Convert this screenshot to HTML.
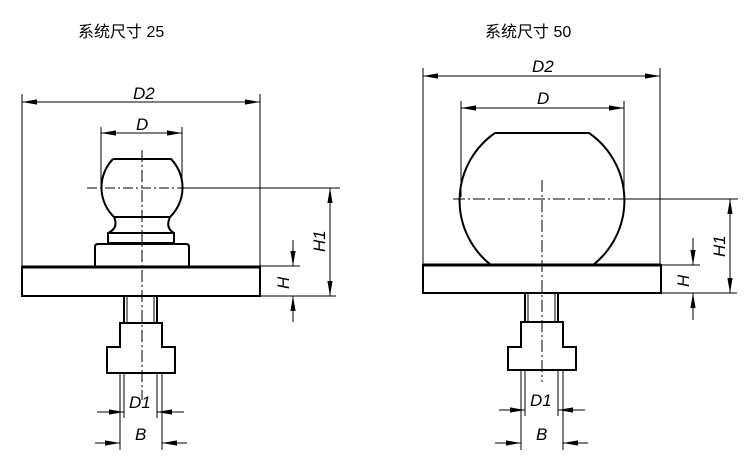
<!DOCTYPE html>
<html><head><meta charset="utf-8"><style>
html,body{margin:0;padding:0;background:#fff;}
svg{display:block;}
text{font-family:"Liberation Sans","Noto Sans CJK SC",sans-serif;fill:#000;}
.dim{font-style:italic;font-size:17px;}
</style></head><body>
<svg width="750" height="467" viewBox="0 0 750 467" xmlns="http://www.w3.org/2000/svg">
<defs>
<marker id="a" viewBox="0 0 15 6" refX="15" refY="3" markerWidth="15" markerHeight="6" markerUnits="userSpaceOnUse" orient="auto"><path d="M0,0.4 L15,3 L0,5.6 Z" fill="#000"/></marker>
</defs>
<text x="78" y="37" font-size="16">系统尺寸 25</text>
<text x="485" y="37" font-size="16">系统尺寸 50</text>

<!-- LEFT -->
<g stroke="#000" fill="none">
<g stroke-width="1">
<line x1="22" y1="94" x2="22" y2="266"/>
<line x1="260" y1="94" x2="260" y2="266"/>
<line x1="141" y1="102" x2="260" y2="102" marker-end="url(#a)"/>
<line x1="141" y1="102" x2="22" y2="102" marker-end="url(#a)"/>
<line x1="101" y1="127" x2="101" y2="186"/>
<line x1="182" y1="127" x2="182" y2="186"/>
<line x1="141" y1="133" x2="101" y2="133" marker-end="url(#a)"/>
<line x1="141" y1="133" x2="182" y2="133" marker-end="url(#a)"/>
<line x1="182" y1="188" x2="340" y2="188"/>
<line x1="260" y1="266" x2="300" y2="266"/>
<line x1="260" y1="296" x2="336" y2="296"/>
<line x1="330" y1="242" x2="330" y2="188" marker-end="url(#a)"/>
<line x1="330" y1="242" x2="330" y2="296" marker-end="url(#a)"/>
<line x1="293" y1="240" x2="293" y2="266" marker-end="url(#a)"/>
<line x1="293" y1="322" x2="293" y2="296" marker-end="url(#a)"/>
<line x1="124" y1="373" x2="124" y2="418"/>
<line x1="157" y1="373" x2="157" y2="418"/>
<line x1="120" y1="373" x2="120" y2="450"/>
<line x1="162" y1="373" x2="162" y2="450"/>
<line x1="97" y1="412" x2="124" y2="412" marker-end="url(#a)"/>
<line x1="184" y1="412" x2="157" y2="412" marker-end="url(#a)"/>
<line x1="95" y1="443" x2="120" y2="443" marker-end="url(#a)"/>
<line x1="187" y1="443" x2="162" y2="443" marker-end="url(#a)"/>
<line x1="87" y1="188" x2="182" y2="188" stroke-dasharray="10,3,2,3"/>
</g>
<g stroke-width="2">
<path d="M113,159 L171,159 A41,41 0 0 1 170,217"/>
<path d="M113,159 A41,41 0 0 0 114,217"/>
<line x1="114" y1="217" x2="170" y2="217"/>
<path d="M114,217 Q119,228 108,233"/>
<path d="M170,217 Q165,228 174,233"/>
<rect x="108" y="233" width="66" height="10"/>
<path d="M95,266 L95,247 Q95,244 98,244 L186,244 Q189,244 189,247 L189,266"/>
<rect x="22" y="267" width="238" height="29"/>
<line x1="22" y1="267" x2="260" y2="267" stroke-width="3"/>
<rect x="124" y="296" width="33" height="27"/>
<line x1="127" y1="296" x2="127" y2="323" stroke-width="1"/>
<line x1="154" y1="296" x2="154" y2="323" stroke-width="1"/>
<path d="M120,323 L162,323 L162,347 L175,347 L175,373 L107,373 L107,347 L120,347 Z"/>
</g>
<line x1="142" y1="150" x2="142" y2="400" stroke-width="1" stroke-dasharray="12,3,2,3"/>
</g>
<text class="dim" x="133" y="99">D2</text>
<text class="dim" x="136" y="130">D</text>
<text class="dim" x="129" y="408">D1</text>
<text class="dim" x="135" y="440">B</text>
<text class="dim" transform="translate(325,252) rotate(-90)">H1</text>
<text class="dim" transform="translate(289,289) rotate(-90)">H</text>

<!-- RIGHT -->
<g stroke="#000" fill="none">
<g stroke-width="1">
<line x1="423" y1="68" x2="423" y2="265"/>
<line x1="660" y1="68" x2="660" y2="265"/>
<line x1="541" y1="76" x2="423" y2="76" marker-end="url(#a)"/>
<line x1="541" y1="76" x2="660" y2="76" marker-end="url(#a)"/>
<line x1="461" y1="101" x2="461" y2="197"/>
<line x1="624" y1="101" x2="624" y2="197"/>
<line x1="542" y1="108" x2="461" y2="108" marker-end="url(#a)"/>
<line x1="542" y1="108" x2="624" y2="108" marker-end="url(#a)"/>
<line x1="624" y1="199" x2="738" y2="199"/>
<line x1="660" y1="265" x2="700" y2="265"/>
<line x1="660" y1="293" x2="737" y2="293"/>
<line x1="730" y1="246" x2="730" y2="199" marker-end="url(#a)"/>
<line x1="730" y1="246" x2="730" y2="293" marker-end="url(#a)"/>
<line x1="693" y1="238" x2="693" y2="265" marker-end="url(#a)"/>
<line x1="693" y1="320" x2="693" y2="293" marker-end="url(#a)"/>
<line x1="525" y1="370" x2="525" y2="416"/>
<line x1="558" y1="370" x2="558" y2="416"/>
<line x1="521" y1="370" x2="521" y2="450"/>
<line x1="563" y1="370" x2="563" y2="450"/>
<line x1="499" y1="410" x2="525" y2="410" marker-end="url(#a)"/>
<line x1="585" y1="410" x2="558" y2="410" marker-end="url(#a)"/>
<line x1="495" y1="443" x2="521" y2="443" marker-end="url(#a)"/>
<line x1="588" y1="443" x2="563" y2="443" marker-end="url(#a)"/>
<line x1="453" y1="199" x2="624" y2="199" stroke-dasharray="12,3,2,3"/>
</g>
<g stroke-width="2">
<path d="M495,133 L589,133 A82,82 0 0 1 593,265"/>
<path d="M495,133 A82,82 0 0 0 491,265"/>
<rect x="423" y="265" width="238" height="28"/>
<line x1="423" y1="265" x2="661" y2="265" stroke-width="3"/>
<rect x="525" y="293" width="33" height="29"/>
<line x1="528" y1="293" x2="528" y2="322" stroke-width="1"/>
<line x1="555" y1="293" x2="555" y2="322" stroke-width="1"/>
<path d="M521,322 L563,322 L563,347 L576,347 L576,370 L508,370 L508,347 L521,347 Z"/>
</g>
<line x1="542" y1="180" x2="542" y2="382" stroke-width="1" stroke-dasharray="12,3,2,3"/>
</g>
<text class="dim" x="532" y="72">D2</text>
<text class="dim" x="537" y="104">D</text>
<text class="dim" x="530" y="406">D1</text>
<text class="dim" x="536" y="440">B</text>
<text class="dim" transform="translate(725,257) rotate(-90)">H1</text>
<text class="dim" transform="translate(689,287) rotate(-90)">H</text>
</svg>
</body></html>
